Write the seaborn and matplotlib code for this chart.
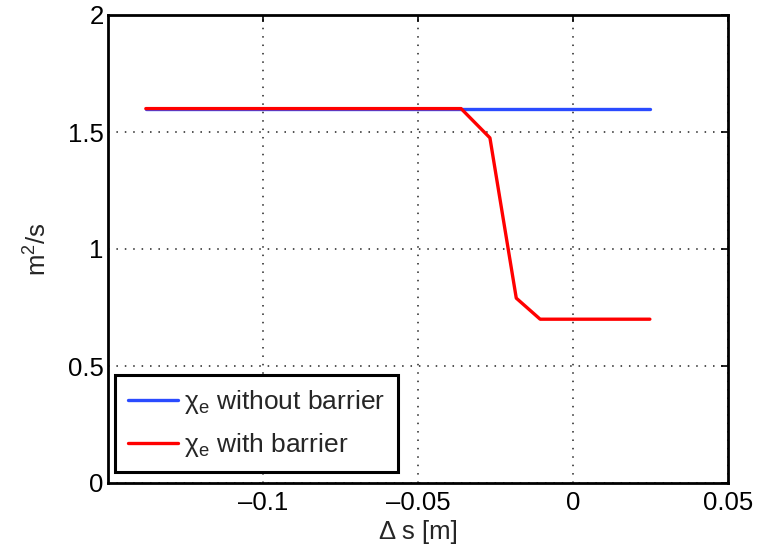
import matplotlib
matplotlib.use("Agg")
import matplotlib.pyplot as plt
import seaborn as sns
import pandas as pd

# data
x_without = [-0.1378, 0.0248]
y_without = [1.6, 1.6]
x_with = [-0.1378, -0.0361, -0.0268, -0.0183, -0.0106, 0.0248]
y_with = [1.6, 1.6, 1.475, 0.79, 0.70, 0.70]
labels = ["\u03c7$_\\mathrm{e}$ without barrier", "\u03c7$_\\mathrm{e}$ with barrier"]
xticks = [-0.1, -0.05, 0, 0.05]
xticklabels = ["\u20130.1", "\u20130.05", "0", "0.05"]
yticks = [0, 0.5, 1, 1.5, 2]
yticklabels = ["0", "0.5", "1", "1.5", "2"]

df = pd.concat([
    pd.DataFrame({"x": x_without, "y": y_without, "series": labels[0]}),
    pd.DataFrame({"x": x_with, "y": y_with, "series": labels[1]}),
], ignore_index=True)

sns.set_style("white")
plt.rcParams["font.family"] = ["Liberation Sans", "DejaVu Sans"]
plt.rcParams["mathtext.fontset"] = "custom"
plt.rcParams["mathtext.rm"] = "Liberation Sans"
plt.rcParams["mathtext.it"] = "Liberation Sans:italic"

fig = plt.figure(figsize=(7.64, 5.44), dpi=100)
ax = fig.add_axes([108 / 764, 61 / 544, 620 / 764, 468 / 544])

sns.lineplot(data=df, x="x", y="y", hue="series", sort=False,
             palette=["#2a4bff", "#ff0000"], linewidth=2.4, ax=ax, estimator=None)

ax.set_xlim(-0.15, 0.05)
ax.set_ylim(0, 2)
ax.set_xticks(xticks)
ax.set_xticklabels(xticklabels)
ax.set_yticks(yticks)
ax.set_yticklabels(yticklabels)
ax.grid(True, linestyle=(0, (1, 4.5)), color="#222222", linewidth=1.1)
ax.tick_params(direction="in", length=5, width=1.2, labelsize=18.5, top=True, right=True,
               colors="black")
ax.tick_params(axis="x", pad=6)
ax.tick_params(axis="y", pad=3)
for s in ax.spines.values():
    s.set_visible(True)
    s.set_linewidth(2)
    s.set_color("black")
ax.set_xlabel("\u0394 s [m]", fontsize=18.5, labelpad=3)
ax.set_ylabel("m$^2$/s", fontsize=18.5, labelpad=12)

leg = ax.legend(loc="lower left", bbox_to_anchor=(7 / 620, 11 / 468), borderaxespad=0,
                fontsize=19, frameon=True, fancybox=False, edgecolor="black",
                handlelength=1.9, labelspacing=0.55, borderpad=0.5, handletextpad=0.2)
leg.get_frame().set_linewidth(2.2)
leg.get_frame().set_alpha(1)

fig.savefig("out.png", dpi=100)
